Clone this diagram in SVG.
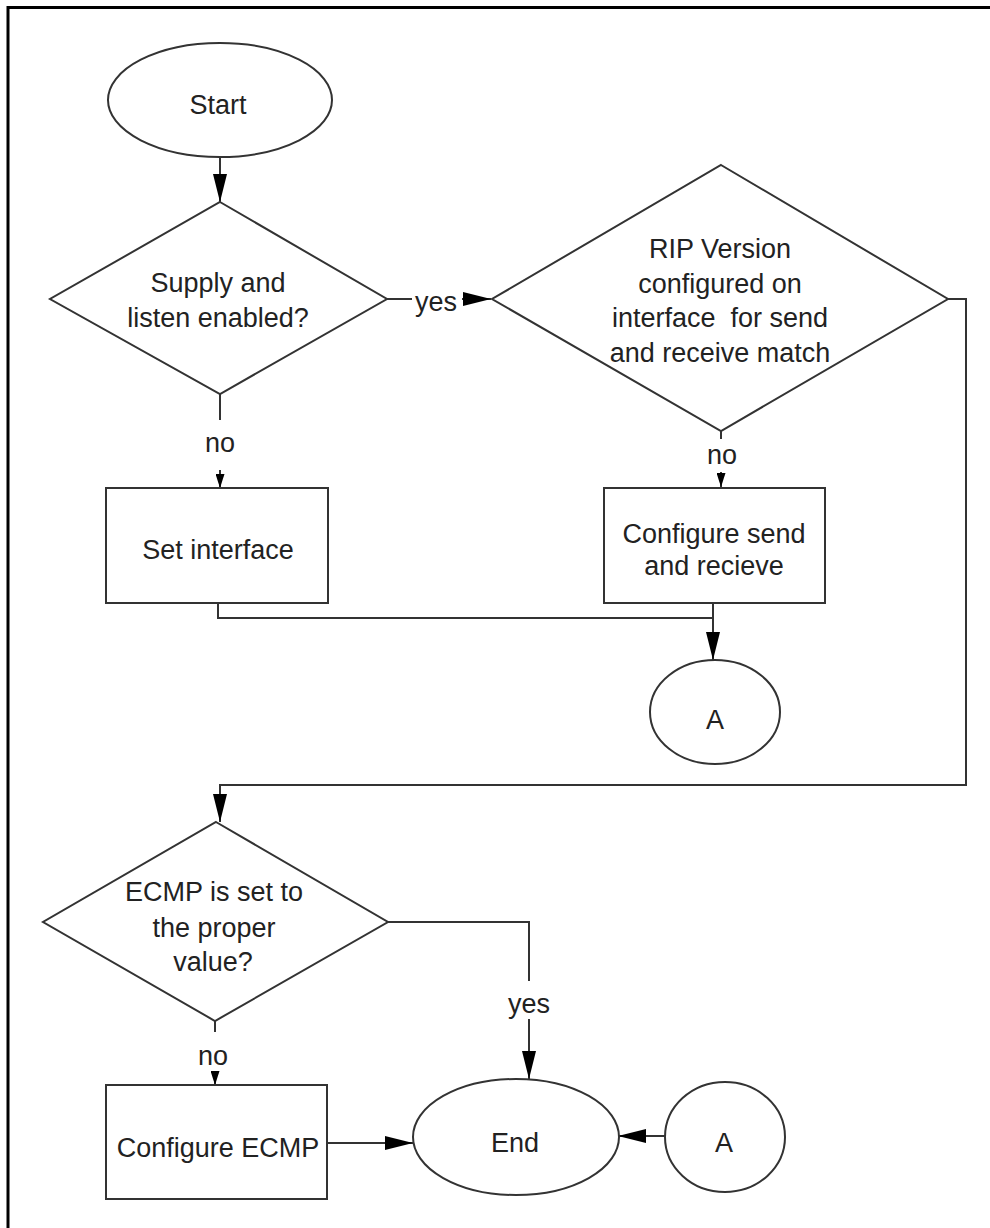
<svg xmlns="http://www.w3.org/2000/svg" width="990" height="1228" viewBox="0 0 990 1228">
<defs>
<style>
.shape{fill:#fff;stroke:#333;stroke-width:2}
.conn{fill:none;stroke:#333;stroke-width:2}
.t{font-family:"Liberation Sans",Arial,sans-serif;font-size:27px;fill:#222;text-anchor:middle}
</style>
<marker id="big" markerUnits="userSpaceOnUse" markerWidth="28" markerHeight="14" refX="28" refY="7" orient="auto">
<path d="M0,0 L28,7 L0,14 Z" fill="#000"/>
</marker>
<marker id="small" markerUnits="userSpaceOnUse" markerWidth="14" markerHeight="9" refX="14" refY="4.5" orient="auto">
<path d="M0,0 L14,4.5 L0,9 Z" fill="#000"/>
</marker>
</defs>
<rect width="990" height="1228" fill="#fff"/>
<path d="M8,1228 V7.5 H990" fill="none" stroke="#000" stroke-width="3"/>

<g id="connectors">
<path class="conn" d="M220,157 V202" marker-end="url(#big)"/>
<path class="conn" d="M387,299 H412"/>
<path class="conn" d="M462,299 H491" marker-end="url(#big)"/>
<path class="conn" d="M220,394 V420"/>
<path class="conn" d="M220,470 V488" marker-end="url(#small)"/>
<path class="conn" d="M721,431 V439"/>
<path class="conn" d="M721,472 V487" marker-end="url(#small)"/>
<path class="conn" d="M948,299 H966 V785 H220 V822" marker-end="url(#big)"/>
<path class="conn" d="M218,603 V618 H713"/>
<path class="conn" d="M713,603 V660" marker-end="url(#big)"/>
<path class="conn" d="M388,922 H529 V981"/>
<path class="conn" d="M529,1019 V1079" marker-end="url(#big)"/>
<path class="conn" d="M215,1021 V1032"/>
<path class="conn" d="M215,1071 V1085" marker-end="url(#small)"/>
<path class="conn" d="M327,1143 H413" marker-end="url(#big)"/>
<path class="conn" d="M665,1136 H618" marker-end="url(#big)"/>
<text class="t" x="436" y="311">yes</text>
<text class="t" x="220" y="452">no</text>
<text class="t" x="722" y="464">no</text>
<text class="t" x="529" y="1013">yes</text>
<text class="t" x="213" y="1065">no</text>
</g>

<g id="start">
<ellipse class="shape" cx="220" cy="100" rx="112" ry="57"/>
<text class="t" x="218" y="114">Start</text>
</g>

<g id="supply-listen">
<polygon class="shape" points="220,202 387,299 220,394 50,299"/>
<text class="t" x="218" y="292">Supply and</text>
<text class="t" x="218" y="327">listen enabled?</text>
</g>

<g id="rip-version">
<polygon class="shape" points="721,165 948,299 721,431 492,299"/>
<text class="t" x="720" y="258">RIP Version</text>
<text class="t" x="720" y="293">configured on</text>
<text class="t" x="720" y="327" xml:space="preserve">interface  for send</text>
<text class="t" x="720" y="362">and receive match</text>
</g>

<g id="set-interface">
<rect class="shape" x="106" y="488" width="222" height="115"/>
<text class="t" x="218" y="559">Set interface</text>
</g>

<g id="configure-send">
<rect class="shape" x="604" y="488" width="221" height="115"/>
<text class="t" x="714" y="543">Configure send</text>
<text class="t" x="714" y="575">and recieve</text>
</g>

<g id="connector-a-top">
<ellipse class="shape" cx="715" cy="712" rx="65" ry="52"/>
<text class="t" x="715" y="729">A</text>
</g>

<g id="ecmp-check">
<polygon class="shape" points="216,822 388,922 215,1021 43,922"/>
<text class="t" x="214" y="901">ECMP is set to</text>
<text class="t" x="214" y="937">the proper</text>
<text class="t" x="213" y="971">value?</text>
</g>

<g id="configure-ecmp">
<rect class="shape" x="106" y="1085" width="221" height="114"/>
<text class="t" x="218" y="1157">Configure ECMP</text>
</g>

<g id="end">
<ellipse class="shape" cx="516" cy="1137" rx="103" ry="58"/>
<text class="t" x="515" y="1152">End</text>
</g>

<g id="connector-a-bottom">
<ellipse class="shape" cx="725" cy="1137" rx="60" ry="55"/>
<text class="t" x="724" y="1152">A</text>
</g>
</svg>
